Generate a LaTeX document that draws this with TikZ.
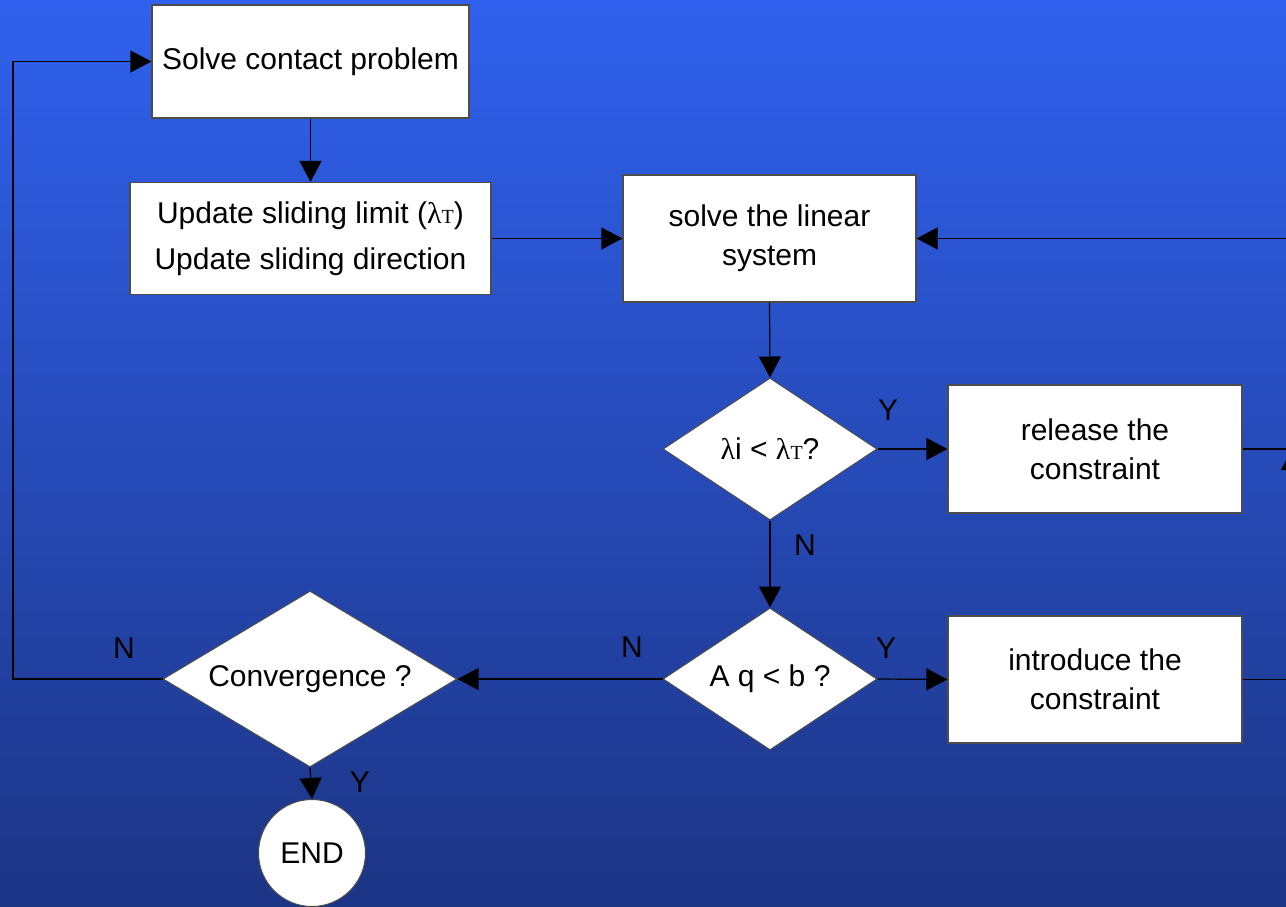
\documentclass[tikz,border=0pt]{standalone}
\usepackage{fontspec}
\setmainfont{Liberation Sans}
\newfontfamily\lamfont{Liberation Serif}
\usetikzlibrary{shapes.geometric,arrows.meta}
\newcommand{\lamT}{{\lamfont λ{\fontsize{20}{20}\selectfont T}}}
\newcommand{\lam}{{\lamfont λ}}
\definecolor{bgtop}{RGB}{48,97,238}
\definecolor{bgbot}{RGB}{28,52,132}
\begin{document}
\begin{tikzpicture}[x=1pt,y=-1pt,
  every node/.style={font=\fontsize{30}{39}\selectfont, text=black},
  procbox/.style={draw=black!70, line width=1.2pt, fill=white, rectangle, inner sep=0pt, align=center},
  decision/.style={draw=black!70, line width=1pt, fill=white, diamond, inner sep=0pt},
  conn/.style={line width=1.2pt, draw=black},
  arr/.style={conn, -{Triangle[length=21pt,width=22pt]}},
  lbl/.style={inner sep=0pt}]
\path[use as bounding box] (0,0) rectangle (1286,907);
\clip (0,0) rectangle (1286,907);
\shade[top color=bgtop, bottom color=bgbot] (0,0) rectangle (1286,907);

\node[procbox, minimum width=317pt, minimum height=113pt] (solve) at (310.5,61.5) {\raisebox{-3pt}{Solve contact problem}};
\node[procbox, minimum width=361pt, minimum height=112pt, font=\fontsize{30}{46}\selectfont] (update) at (310.5,238.5) {\raisebox{-3pt}{Update sliding limit ({\lamT})}\\\raisebox{-3pt}{Update sliding direction}};
\node[procbox, minimum width=293pt, minimum height=127pt] (linear) at (769.5,238.5) {solve the linear\\system};
\node[decision, minimum width=214pt, minimum height=142pt, aspect=1.5] (d1) at (770,449) {\lam i < \lamT?};
\node[procbox, minimum width=294pt, minimum height=128pt] (release) at (1095,449) {release the\\constraint};
\node[decision, minimum width=214pt, minimum height=142pt, aspect=1.5] (d2) at (770,679) {A q < b ?};
\node[procbox, minimum width=294pt, minimum height=127pt] (intro) at (1095,679.5) {introduce the\\constraint};
\node[decision, minimum width=294pt, minimum height=176pt, aspect=1.67] (conv) at (310,679) {Convergence ?};
\node[circle, draw=black!70, line width=1pt, fill=white, minimum size=107pt, inner sep=0pt] (end) at (312,853) {END};

\coordinate (rc) at (1292,449);
\coordinate (lc) at (13,679);

\draw[arr] (solve.south) -- (update.north);
\draw[arr] (update.east) -- (linear.west);
\draw[arr] (linear.south) -- (d1.north);
\draw[arr] (d1.east) -- (release.west);
\draw[arr] (d1.south) -- (d2.north);
\draw[arr] (d2.east) -- (intro.west);
\draw[arr] (d2.west) -- (conv.east);
\draw[arr] (conv.south) -- (end.north);
\draw[arr] (release.east) -- (rc) |- (linear.east);
\draw[arr] (intro.east) -| (rc);
\draw[arr] (conv.west) -- (lc) |- (solve.west);

\node[lbl] (y1) at (888,410) {Y};
\node[lbl] (n1) at (805,545) {N};
\node[lbl] (y2) at (886,648) {Y};
\node[lbl] (n2) at (632,647) {N};
\node[lbl] (n3) at (124,648) {N};
\node[lbl] (y3) at (360,782) {Y};
\end{tikzpicture}
\end{document}
